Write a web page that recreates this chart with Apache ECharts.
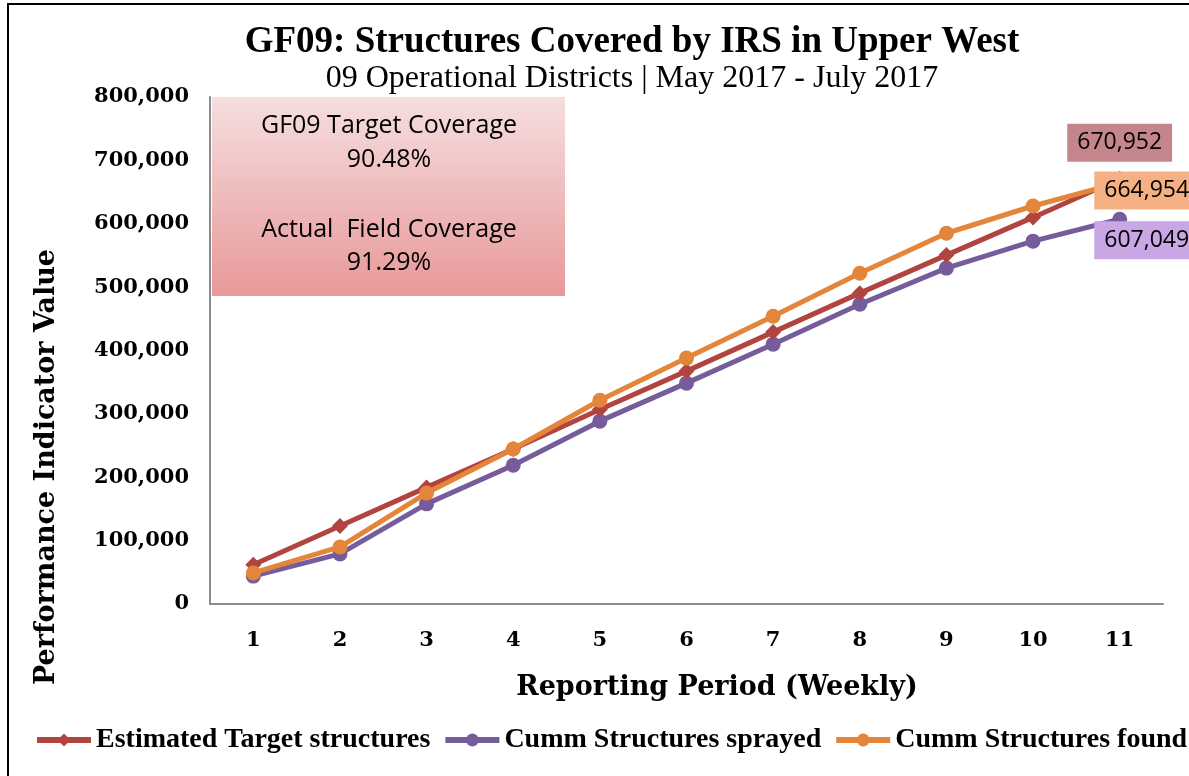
<!DOCTYPE html>
<html>
<head>
<meta charset="utf-8">
<title>GF09 Structures Covered by IRS</title>
<script src="https://cdn.jsdelivr.net/npm/echarts@6/dist/echarts.min.js"></script>
<style>
  html, body { margin: 0; padding: 0; background: #fff; }
  #chart { width: 1189px; height: 776px; }
</style>
</head>
<body>
<div id="chart"></div>
<script>
// weekly reporting periods
const periods = ['1', '2', '3', '4', '5', '6', '7', '8', '9', '10', '11']

// values, last week taken from the data labels
const targetStructures = [62000, 123000, 184000, 244500, 307000, 367500, 429000, 490500, 550500, 610000, 670952]
const sprayedStructures = [44000, 79000, 158000, 219000, 288500, 348500, 410000, 473000, 530000, 572500, 607049]
const foundStructures = [49000, 90000, 175000, 244500, 321500, 388000, 454000, 522000, 585000, 628000, 664954]

const yTicks = [0, 100000, 200000, 300000, 400000, 500000, 600000, 700000, 800000]

const serifBold = '"DejaVu Serif", serif'
const titleFont = '"Liberation Serif", serif'
const labelFont = '"Open Sans", sans-serif'

function fmt(v) {
  return v.toLocaleString('en-US')
}

// only the last point gets a value label
function withEndLabel(values, bg, offset) {
  return values.map((v, i) => {
    if (i !== values.length - 1) return v
    return {
      value: v,
      label: {
        show: true,
        position: 'inside',
        offset: offset,
        formatter: (p) => fmt(p.value),
        backgroundColor: bg,
        color: '#000',
        fontFamily: labelFont,
        fontSize: 23,
        padding: [8, 10, 7, 10]
      }
    }
  })
}

function boxText(text, y) {
  return {
    type: 'text',
    x: 177,
    y: y,
    style: { text: text, fontFamily: labelFont, fontSize: 25, fill: '#000', align: 'center', verticalAlign: 'middle' }
  }
}

const myChart = echarts.init(document.getElementById('chart'), null, { renderer: 'canvas' })

const options = {
  backgroundColor: '#fff',
  animation: false,
  title: [{
    text: 'GF09: Structures Covered by IRS in Upper West',
    left: 627,
    top: 19,
    textAlign: 'center',
    textStyle: { fontFamily: titleFont, fontWeight: 'bold', fontSize: 37, color: '#000' }
  }, {
    text: '09 Operational Districts | May 2017 - July 2017',
    left: 627,
    top: 58,
    textAlign: 'center',
    textStyle: { fontFamily: titleFont, fontWeight: 'normal', fontSize: 32, color: '#000' }
  }],
  grid: {
    left: 210,
    right: 26,
    top: 97,
    bottom: 172,
    containLabel: false
  },
  legend: {
    left: 29,
    top: 721,
    width: 1600,
    itemWidth: 54,
    itemHeight: 16,
    itemGap: 12,
    lineStyle: { width: 6 },
    textStyle: { fontFamily: titleFont, fontWeight: 'bold', fontSize: 28, color: '#000' },
    data: ['Estimated Target structures', 'Cumm Structures sprayed', 'Cumm Structures found']
  },
  xAxis: {
    type: 'category',
    data: periods,
    boundaryGap: true,
    axisLine: { lineStyle: { color: '#8c8c8c', width: 2 } },
    axisTick: { show: false },
    axisLabel: { fontFamily: serifBold, fontWeight: 'bold', fontSize: 21, color: '#000', margin: 26 }
  },
  yAxis: {
    type: 'value',
    min: yTicks[0],
    max: yTicks[yTicks.length - 1],
    interval: 100000,
    axisLine: { show: true, lineStyle: { color: '#8c8c8c', width: 2 } },
    axisTick: { show: false },
    splitLine: { show: false },
    axisLabel: {
      fontFamily: serifBold,
      fontWeight: 'bold',
      fontSize: 21,
      color: '#000',
      margin: 21,
      formatter: (v) => fmt(v)
    }
  },
  series: [{
    name: 'Estimated Target structures',
    type: 'line',
    data: withEndLabel(targetStructures, '#C4868B', [0, -36]),
    symbol: 'diamond',
    symbolSize: 16,
    color: '#B24440',
    lineStyle: { width: 5 },
    z: 3
  }, {
    name: 'Cumm Structures sprayed',
    type: 'line',
    data: withEndLabel(sprayedStructures, '#C9A6E4', [27, 21]),
    symbol: 'circle',
    symbolSize: 15,
    color: '#775C9C',
    lineStyle: { width: 5 },
    z: 2
  }, {
    name: 'Cumm Structures found',
    type: 'line',
    data: withEndLabel(foundStructures, '#F5B183', [27, 8]),
    symbol: 'circle',
    symbolSize: 15,
    color: '#E3853A',
    lineStyle: { width: 5 },
    z: 4
  }],
  graphic: [{
    // outer frame of the chart
    type: 'rect',
    shape: { x: 8, y: 4, width: 1300, height: 900 },
    style: { fill: null, stroke: '#000', lineWidth: 2 },
    silent: true
  }, {
    // axis titles, placed by hand like in the original
    type: 'text',
    x: 47,
    y: 467,
    rotation: Math.PI / 2,
    style: { text: 'Performance Indicator Value', fontFamily: serifBold, fontWeight: 'bold', fontSize: 27, fill: '#000', align: 'center', verticalAlign: 'middle' }
  }, {
    type: 'text',
    x: 717,
    y: 688,
    style: { text: 'Reporting Period (Weekly)', fontFamily: serifBold, fontWeight: 'bold', fontSize: 27, fill: '#000', align: 'center', verticalAlign: 'middle' }
  }, {
    // coverage text box
    type: 'group',
    left: 212,
    top: 97,
    z: 10,
    children: [{
      type: 'rect',
      shape: { x: 0, y: 0, width: 353, height: 199 },
      style: {
        fill: new echarts.graphic.LinearGradient(0, 0, 0, 1, [
          { offset: 0, color: '#F6DEDF' },
          { offset: 1, color: '#E89899' }
        ])
      }
    },
    boxText('GF09 Target Coverage', 29),
    boxText('90.48%', 63),
    boxText('Actual  Field Coverage', 133),
    boxText('91.29%', 166)]
  }]
}

myChart.setOption(options)
</script>
</body>
</html>
